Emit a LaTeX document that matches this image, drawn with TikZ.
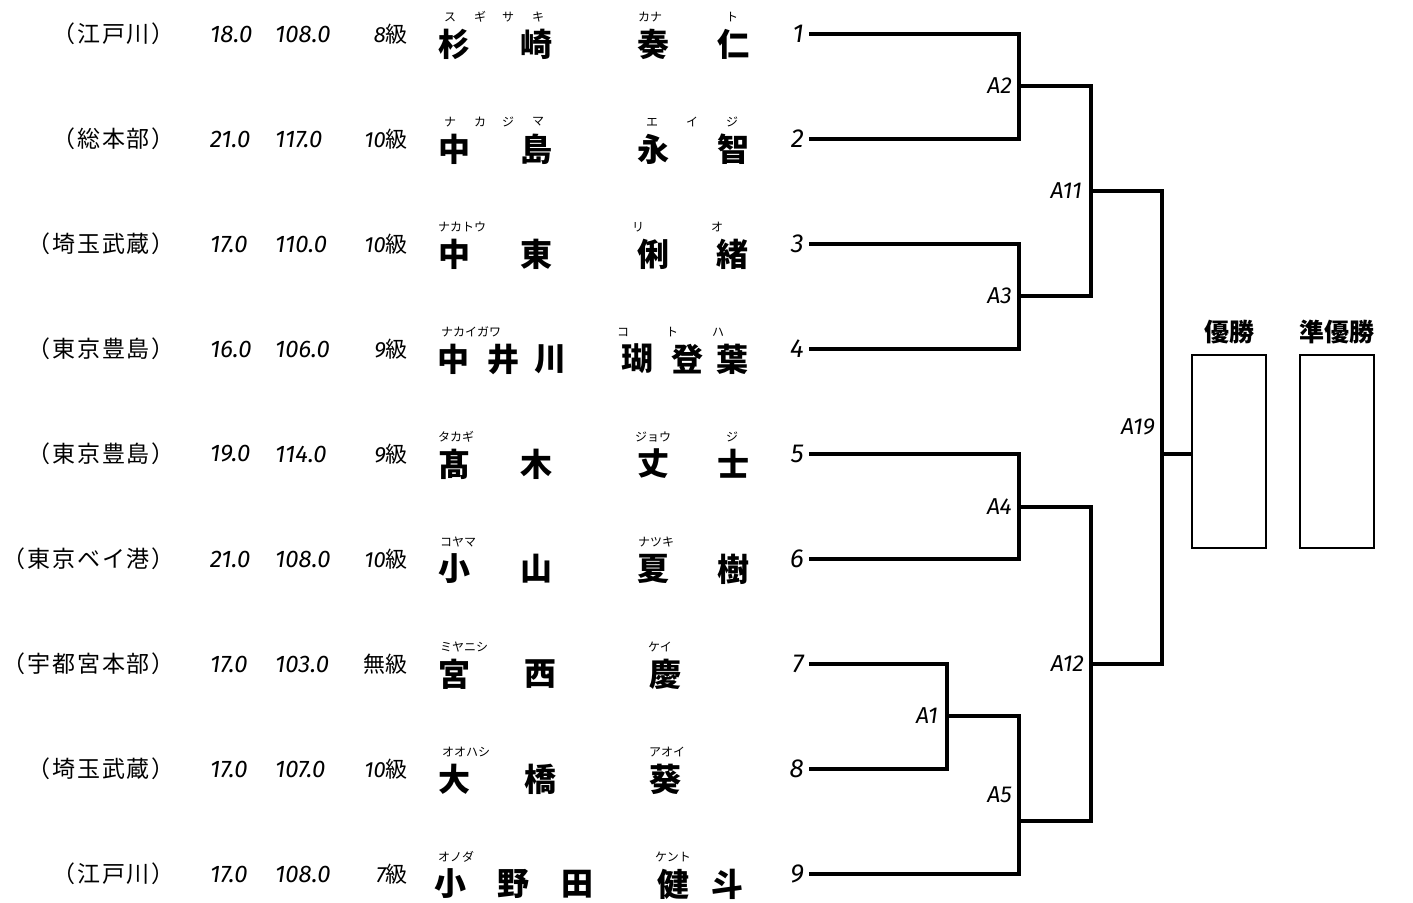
\documentclass[tikz,border=0pt]{standalone}
\usepackage{fontspec}
\newfontfamily\jpfont{Noto Sans CJK JP}
\newfontfamily\clubfont{Noto Sans CJK JP}[LetterSpace=8]
\newfontfamily\numfont{Fira Sans}
\newcommand\dg[1]{{\numfont\itshape #1}}
\usetikzlibrary{positioning}
\tikzset{
    bracket/.style={line width=3.4pt, line join=miter}, % tournament lines
    club/.style={anchor=east, inner sep=0pt, font=\clubfont\fontsize{23}{24}\selectfont},
    weight/.style={anchor=west, inner sep=0pt, font=\numfont\itshape\fontsize{24}{26}\selectfont},
    grade/.style={anchor=east, inner sep=0pt, font=\jpfont\fontsize{22}{24}\selectfont},
    kanji/.style={inner sep=0pt, font=\jpfont\bfseries\fontsize{32}{34}\selectfont},
    ruby/.style={inner sep=0pt, font=\jpfont\fontsize{12}{13}\selectfont},
    seed/.style={inner sep=0pt, font=\numfont\itshape\fontsize{26}{28}\selectfont},
    match/.style={inner sep=0pt, font=\numfont\itshape\fontsize{23}{25}\selectfont},
    prizebox/.style={draw, line width=1.8pt, minimum width=74pt, minimum height=193pt, inner sep=0pt},
    prize/.style={inner sep=0pt, font=\jpfont\bfseries\fontsize{25}{26}\selectfont}
}

\begin{document}
\begin{tikzpicture}[x=1pt, y=-1pt]
    \useasboundingbox (0,0) rectangle (1413,902);

    % entries
    \foreach \r/\dojo/\wa/\wb/\cls in {
        1/江戸川/18.0/108.0/\dg{8}級, 2/総本部/21.0/117.0/\dg{10}級,
        3/埼玉武蔵/17.0/110.0/\dg{10}級, 4/東京豊島/16.0/106.0/\dg{9}級,
        5/東京豊島/19.0/114.0/\dg{9}級, 6/東京ベイ港/21.0/108.0/\dg{10}級,
        7/宇都宮本部/17.0/103.0/無級, 8/埼玉武蔵/17.0/107.0/\dg{10}級,
        9/江戸川/17.0/108.0/\dg{7}級} {
        \coordinate (p\r) at (809, {34+105*(\r-1)});
        \node[seed, left=5pt of p\r] (n\r) {\r};
        \node[club] (c\r) at (175, {34+105*(\r-1)}) {（\dojo）};
        \node[weight] (h\r) at (210, {34+105*(\r-1)}) {\wa};
        \node[weight] (w\r) at (275, {34+105*(\r-1)}) {\wb};
        \node[grade] (g\r) at (408, {34+105*(\r-1)}) {\cls};
    }

    % names
    \foreach \r/\cx/\ch [count=\i] in {
        1/454/杉, 1/536/崎, 1/653/奏, 1/733/仁,
        2/454/中, 2/536/島, 2/653/永, 2/733/智,
        3/454/中, 3/536/東, 3/653/俐, 3/732/緒,
        4/453/中, 4/503/井, 4/550/川, 4/637/瑚, 4/687/登, 4/732/葉,
        5/454/髙, 5/536/木, 5/653/丈, 5/733/士,
        6/454/小, 6/536/山, 6/653/夏, 6/733/樹,
        7/454/宮, 7/540/西, 7/665/慶,
        8/454/大, 8/540/橋, 8/665/葵,
        9/450/小, 9/513/野, 9/577/田, 9/673/健, 9/727/斗} {
        \node[kanji] (k\i) at (\cx, {44+105*(\r-1)}) {\ch};
    }

    % readings
    \foreach \r/\cx/\kana [count=\i] in {
        1/450/ス, 1/480/ギ, 1/508/サ, 1/538/キ, 1/650/カナ, 1/732/ト,
        2/450/ナ, 2/480/カ, 2/508/ジ, 2/538/マ, 2/652/エ, 2/692/イ, 2/732/ジ,
        3/462/ナカトウ, 3/638/リ, 3/717/オ,
        4/471/ナカイガワ, 4/623/コ, 4/672/ト, 4/718/ハ,
        5/456/タカギ, 5/653/ジョウ, 5/732/ジ,
        6/458/コヤマ, 6/656/ナツキ,
        7/464/ミヤニシ, 7/660/ケイ,
        8/466/オオハシ, 8/667/アオイ,
        9/456/オノダ, 9/673/ケント} {
        \node[ruby] (f\i) at (\cx, {17+105*(\r-1)}) {\kana};
    }

    % match points
    \coordinate (m1) at (947,716);
    \coordinate (m2) at (1019,86);
    \coordinate (m3) at (1019,296);
    \coordinate (m4) at (1019,507);
    \coordinate (m5) at (1019,821);
    \coordinate (m11) at (1091,191);
    \coordinate (m12) at (1091,664);
    \coordinate (m19) at (1162,454);

    \draw[bracket] (p1) -| (m2) |- (p2);
    \draw[bracket] (p3) -| (m3) |- (p4);
    \draw[bracket] (p5) -| (m4) |- (p6);
    \draw[bracket] (p7) -| (m1) |- (p8);
    \draw[bracket] (m1) -| (m5) |- (p9);
    \draw[bracket] (m2) -| (m11) |- (m3);
    \draw[bracket] (m4) -| (m12) |- (m5);
    \draw[bracket] (m11) -| (m19) |- (m12);

    \node[match, left=9pt of m1] (a1) {A1};
    \node[match, left=7pt of m2] (a2) {A2};
    \node[match, left=7pt of m3] (a3) {A3};
    \node[match, left=7pt of m4] (a4) {A4};
    \node[match, left=7pt of m5, yshift=26pt] (a5) {A5};
    \node[match, left=9pt of m11] (a11) {A11};
    \node[match, left=7pt of m12] (a12) {A12};
    \node[match, left=7pt of m19, yshift=27pt] (a19) {A19};

    % prize boxes
    \node[prizebox] (win) at (1229,451.5) {};
    \node[prizebox] (second) at (1337,451.5) {};
    \node[prize, above=10pt of win] (winlbl) {優勝};
    \node[prize, above=10pt of second] (secondlbl) {準優勝};
    \draw[bracket] (m19) -- (m19 -| win.west);
\end{tikzpicture}
\end{document}
